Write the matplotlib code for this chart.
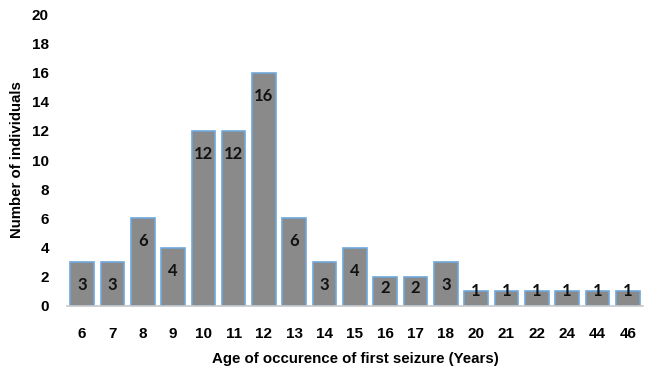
import numpy as np
import matplotlib.pyplot as plt

# Idade do primeiro episódio e número de indivíduos
idades = ['6', '7', '8', '9', '10', '11', '12', '13', '14', '15', '16',
          '17', '18', '20', '21', '22', '24', '44', '46']
contagens = [3, 3, 6, 4, 12, 12, 16, 6, 3, 4, 2, 2, 3, 1, 1, 1, 1, 1, 1]

plt.rcParams['font.family'] = ['Liberation Sans', 'DejaVu Sans']

fig = plt.figure(figsize=(6.5, 3.73), dpi=100)
ax = fig.add_axes([0.103, 0.18, 0.886, 0.782])

x = np.arange(len(idades))
barras = ax.bar(x, contagens, width=0.78, color='#8a8a8a',
                edgecolor='#6fa8dc', linewidth=1.2)

# rótulos dentro das barras, perto do topo
for xi, v in zip(x, contagens):
    desloc = min(23, (v - 1) * 11.5) * 0.72  # pixels -> pontos
    ax.annotate(str(v), (xi, v), xytext=(0, -desloc), textcoords='offset points',
                ha='center', va='center', fontsize=12, fontweight='bold',
                family=['Lato', 'DejaVu Sans'], color='#111111')

ax.set_xlim(-0.5, len(idades) - 0.5)
ax.set_ylim(0, 20)
ax.set_yticks(np.arange(0, 21, 2))
ax.set_xticks(x)
ax.set_xticklabels(idades)

for lado in ['top', 'right', 'left']:
    ax.spines[lado].set_visible(False)
ax.spines['bottom'].set_color('#c8c8c8')
ax.spines['bottom'].set_linewidth(1.2)

ax.tick_params(axis='both', length=0, labelsize=11)
ax.tick_params(axis='x', pad=15)
ax.tick_params(axis='y', pad=13)
for t in ax.get_xticklabels() + ax.get_yticklabels():
    t.set_fontweight('bold')

ax.set_xlabel('Age of occurence of first seizure (Years)', fontsize=10.8,
              fontweight='bold', labelpad=8)
ax.set_ylabel('Number of individuals', fontsize=10.8, fontweight='bold', labelpad=6)

fig.savefig('out.png', dpi=100)
